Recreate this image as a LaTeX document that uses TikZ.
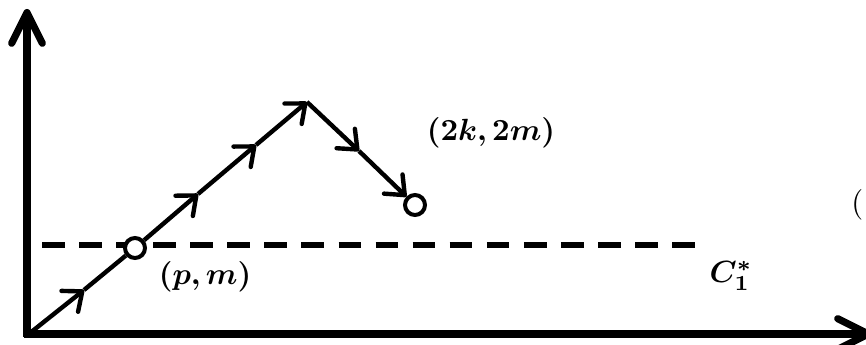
\documentclass[tikz,border=0pt]{standalone}
\usepackage{graphicx}
\usepackage{bm}
\usetikzlibrary{arrows.meta}
\newcommand{\bigtxt}[1]{\scalebox{2.3}{#1}}
\begin{document}
\begin{tikzpicture}[x=0.75pt,y=-0.75pt,
  axis/.style={line width=5.4pt,-{Straight Barb[length=23pt,width=23pt,line cap=round,round]}},
  walk/.style={line width=3.3pt,-{Straight Barb[length=12pt,width=20pt,round]}},
  dot/.style={circle,draw,line width=3pt,fill=white,minimum size=15pt,inner sep=0pt},
  thr/.style={line width=4.8pt,dash pattern=on 17pt off 10.8pt}]
\useasboundingbox (0,0) rectangle (866,345);
% coordinates
\coordinate (O) at (30,333);
\coordinate (ytop) at (27,9);
\coordinate (xend) at (872,334);
\coordinate (A1) at (84,290);
\coordinate (A2) at (198,194);
\coordinate (A3) at (256,145);
\coordinate (P) at (307,102);
\coordinate (B1) at (359,151);
\coordinate (d1) at (42,245);
\coordinate (d2) at (695,245);
% threshold line
\draw[thr] (d1) -- (d2);
% axes
\draw[axis] (27,337) -- (ytop);
\draw[axis] (24,334) -- (xend);
% walk
\node[dot] (C1) at (135,248) {};
\node[dot] (E) at (415,205) {};
\draw[walk] (O) -- (A1);
\draw[line width=3.3pt] (A1) -- (C1);
\draw[walk] (C1) -- (A2);
\draw[walk] (A2) -- (A3);
\draw[walk] (A3) -- (P);
\draw[walk] (P) -- (B1);
\draw[walk] (B1) -- (E);
% labels
\node (l2k) at (491,133) {\bigtxt{$\bm{(2k,2m)}$}};
\node (lpm) at (205,277) {\bigtxt{$\bm{(p,m)}$}};
\node (lc) at (731,276) {\bigtxt{$\bm{C_1^*}$}};
\node[anchor=west,inner sep=0pt] (lcut) at (851,205) {\bigtxt{(}};
\end{tikzpicture}
\end{document}
